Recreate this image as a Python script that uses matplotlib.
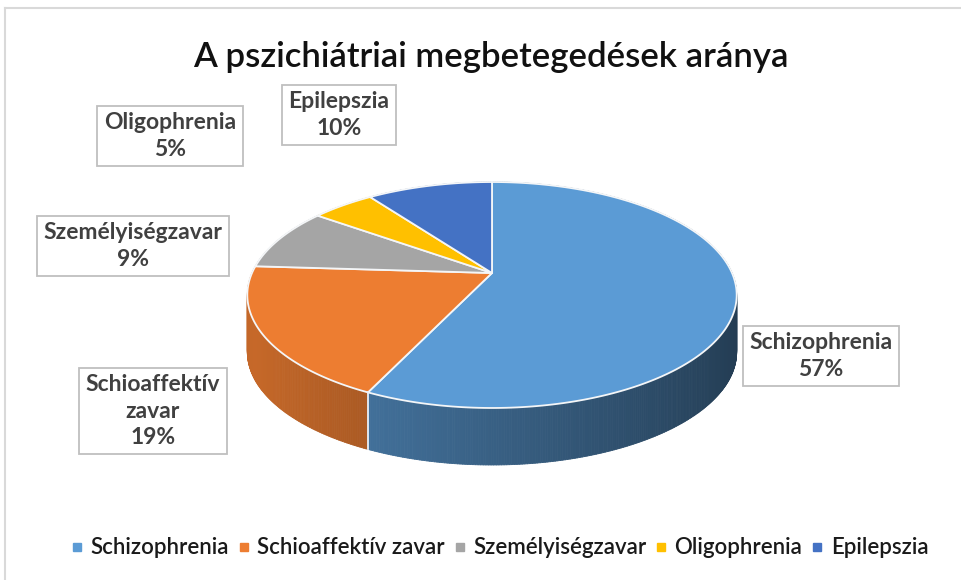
import numpy as np
import matplotlib
matplotlib.use("Agg")
import matplotlib.pyplot as plt
from matplotlib.collections import PolyCollection
from matplotlib.patches import Polygon
from matplotlib.lines import Line2D
import matplotlib.colors as mcolors

# ---- data ----
categories = ["Schizophrenia", "Schioaffektív zavar", "Személyiségzavar", "Oligophrenia", "Epilepszia"]
values = [57, 19, 9, 5, 10]
label_texts = ["Schizophrenia\n57%", "Schioaffektív\nzavar\n19%", "Személyiségzavar\n9%",
               "Oligophrenia\n5%", "Epilepszia\n10%"]
colors = ["#5B9BD5", "#ED7D31", "#A5A5A5", "#FFC000", "#4472C4"]
title = "A pszichiátriai megbetegedések aránya"

plt.rcParams['font.family'] = ['Lato', 'DejaVu Sans']

W, H = 961, 580
fig = plt.figure(figsize=(W / 100, H / 100), dpi=100)
fig.patch.set_facecolor("white")
ax = fig.add_axes([0, 0, 1, 1])
ax.set_xlim(0, W)
ax.set_ylim(H, 0)
ax.axis("off")

# chart border (top and left)
ax.plot([5, W], [8, 8], color="#D9D9D9", lw=1.5)
ax.plot([5, 5], [8, H], color="#D9D9D9", lw=1.5)

# ---- perspective pie geometry ----
cx, apexY, R, B, k, D = 492, 273, 240, 108.7, 0.1947, 57


def proj(theta_deg, depth=0.0):
    t = np.radians(theta_deg)
    x = np.sin(t)
    y = -np.cos(t)
    w = 1 - k * y
    return cx + R * x / w, apexY + B * y / w + depth


total = float(sum(values))
starts = np.cumsum([0] + values[:-1]) / total * 360
ends = np.cumsum(values) / total * 360

# side faces
quads, qcols, qorder = [], [], []
for i, (a0, a1) in enumerate(zip(starts, ends)):
    n = max(4, int((a1 - a0) * 2))
    th = np.linspace(a0, a1, n + 1)
    base = np.array(mcolors.to_rgb(colors[i]))
    for j in range(n):
        t0, t1 = th[j], th[j + 1]
        x0, y0 = proj(t0)
        x1, y1 = proj(t1)
        x2, y2 = proj(t1, D)
        x3, y3 = proj(t0, D)
        tm = np.radians((t0 + t1) / 2)
        nx = np.sin(tm)
        f = 0.62 - 0.24 * nx
        f = min(f, 0.86)
        if nx < -0.9:
            f -= 0.4 * (-nx - 0.9)
        c = np.clip(base * f, 0, 1)
        quads.append([(x0, y0), (x1, y1), (x2, y2), (x3, y3)])
        qcols.append(c)
        qorder.append((y0 + y1) / 2)
order = np.argsort(qorder)
pc = PolyCollection([quads[o] for o in order], facecolors=[qcols[o] for o in order],
                    edgecolors=[qcols[o] for o in order], linewidths=0.6)
ax.add_collection(pc)

# boundary lines on the visible side
for a in starts:
    tx, ty = proj(a)
    bx, by = proj(a, D)
    if -np.cos(np.radians(a)) > 0.05:
        ax.plot([tx, bx], [ty, by], color="#EAF0F8", lw=1.3)

# top faces
for i, (a0, a1) in enumerate(zip(starts, ends)):
    th = np.linspace(a0, a1, 200)
    px, py = proj(th)
    pts = np.column_stack([np.r_[cx, px], np.r_[apexY, py]])
    ax.add_patch(Polygon(pts, closed=True, facecolor=colors[i], edgecolor="#F4F6F8",
                         lw=1.3, joinstyle="round"))

# ---- data labels ----
label_pos = [(821, 356), (153, 411), (133, 246), (170, 136), (339, 115)]
for txt, (lx, ly) in zip(label_texts, label_pos):
    ax.text(lx, ly, txt, ha="center", va="center", multialignment="center",
            fontsize=16.5, fontweight="bold", color="#404040", linespacing=1.3,
            bbox=dict(boxstyle="square,pad=0.3", facecolor="white",
                      edgecolor="#BFBFBF", lw=1.3))

# ---- title ----
ax.text(491, 57, title, ha="center", va="center", fontsize=25, color="#111111",
        fontweight="semibold")

# ---- legend ----
handles = [Line2D([0], [0], marker="s", linestyle="none", markersize=5.5,
                  markerfacecolor=c, markeredgecolor=c) for c in colors]
ax.legend(handles, categories, loc="center", bbox_to_anchor=(500 / W, 1 - 548 / H),
          ncol=5, frameon=False, handlelength=0.5, handletextpad=0.35,
          columnspacing=0.42, labelcolor="#1a1a1a",
          prop=dict(family=['Lato', 'DejaVu Sans'], size=16, weight='semibold'))

fig.savefig("out.png", dpi=100, facecolor="white")
